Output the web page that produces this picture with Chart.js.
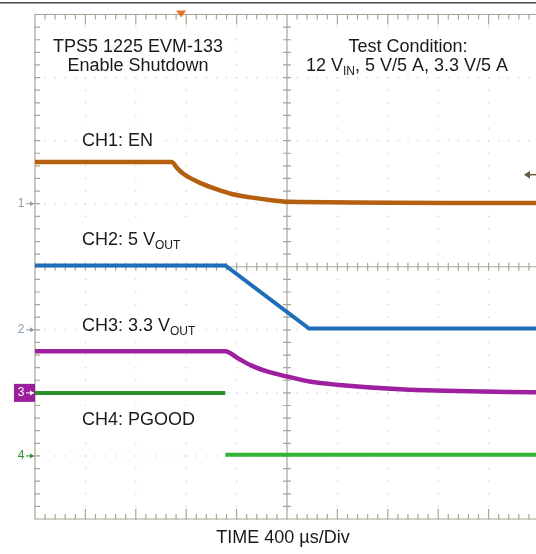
<!DOCTYPE html>
<html>
<head>
<meta charset="utf-8">
<script src="https://cdn.jsdelivr.net/npm/chart.js@4"></script>
<style>
  html, body { margin: 0; padding: 0; background: #fff; overflow: hidden; }
</style>
</head>
<body>
<canvas id="scope" width="545" height="554"></canvas>
<script>
// time axis in microseconds (400 us/div), vertical axis in divisions
const timeTicks = [-2000, -1600, -1200, -800, -400, 0, 400, 800, 1200, 1600, 2000];
const divTicks = [-4, -3, -2, -1, 0, 1, 2, 3, 4];

// CH1: EN
const ch1Time = [-2000, -915, -870, -820, -690, -560, -430, -290, -140, 20, 2000];
const ch1Div = [1.66, 1.66, 1.56, 1.47, 1.33, 1.23, 1.15, 1.10, 1.06, 1.03, 1.01];

// CH2: 5 V out
const ch2Time = [-2000, -490, 175, 2000];
const ch2Div = [0.02, 0.02, -0.98, -0.98];

// CH3: 3.3 V out
const ch3Time = [-2000, -490, -390, -290, -160, 0, 180, 390, 970, 2000];
const ch3Div = [-1.34, -1.34, -1.45, -1.56, -1.66, -1.74, -1.82, -1.87, -1.95, -1.99];

// CH4: PGOOD (before / after the drop)
const ch4HighTime = [-2000, -490];
const ch4HighDiv = [-2.0, -2.0];
const ch4LowTime = [-490, 2000];
const ch4LowDiv = [-2.98, -2.98];

// ground markers on the left, trigger position and level
const chMarkers = ["1", "2", "3", "4"];
const chMarkerDiv = [1, -1, -2, -3];
const triggerTime = -840;
const triggerLevel = 1.46;

const FONT = '"Liberation Sans", Arial, sans-serif';

function pts(xs, ys) {
  return xs.map((t, i) => ({ x: t, y: ys[i] }));
}

// text with optional subscript parts
function drawParts(ctx, parts, x, y, size, align) {
  const subSize = Math.round(size * 0.68);
  let w = 0;
  parts.forEach(p => {
    ctx.font = (p.sub ? subSize : size) + "px " + FONT;
    p.w = ctx.measureText(p.t).width;
    w += p.w;
  });
  let cx = align === "center" ? x - w / 2 : x;
  ctx.textAlign = "left";
  ctx.textBaseline = "middle";
  parts.forEach(p => {
    ctx.font = (p.sub ? subSize : size) + "px " + FONT;
    ctx.fillText(p.t, cx, p.sub ? y + size * 0.3 : y);
    cx += p.w;
  });
}

const scopeGrid = {
  id: "scopeGrid",
  beforeDatasetsDraw(chart) {
    const { ctx, chartArea: a, scales: { x, y } } = chart;
    ctx.save();

    // dotted graticule
    ctx.fillStyle = "#d2d2d2";
    const xStep = (timeTicks[1] - timeTicks[0]) / 5;
    for (const t of timeTicks) {
      const px = x.getPixelForValue(t);
      for (let v = -4; v <= 4.001; v += 0.2) ctx.fillRect(px - 0.6, y.getPixelForValue(v) - 0.6, 1.3, 1.3);
    }
    for (const d of divTicks) {
      const py = y.getPixelForValue(d);
      for (let t = -2000; t <= 2000; t += xStep) ctx.fillRect(x.getPixelForValue(t) - 0.6, py - 0.6, 1.3, 1.3);
    }

    // border and centre lines with minor ticks
    ctx.strokeStyle = "#a8a798";
    ctx.lineWidth = 1.2;
    const x0 = x.getPixelForValue(0), y0 = y.getPixelForValue(0);
    ctx.beginPath();
    ctx.moveTo(a.left, a.top); ctx.lineTo(a.right, a.top);
    ctx.moveTo(a.left, a.bottom); ctx.lineTo(a.right, a.bottom);
    ctx.moveTo(a.left, a.top); ctx.lineTo(a.left, a.bottom);
    ctx.moveTo(a.left, y0); ctx.lineTo(a.right, y0);
    ctx.moveTo(x0, a.top); ctx.lineTo(x0, a.bottom);
    for (let t = -2000; t <= 2000; t += xStep) {
      const px = x.getPixelForValue(t);
      const major = Math.abs(t % 400) < 1;
      ctx.moveTo(px, a.top); ctx.lineTo(px, a.top + (major ? 10 : 5));
      ctx.moveTo(px, a.bottom); ctx.lineTo(px, a.bottom - (major ? 10 : 5));
      ctx.moveTo(px, y0 - 4); ctx.lineTo(px, y0 + 4);
    }
    for (let v = -4; v <= 4.001; v += 0.2) {
      const py = y.getPixelForValue(v);
      ctx.moveTo(a.left, py); ctx.lineTo(a.left + 5, py);
      ctx.moveTo(x0 - 4, py); ctx.lineTo(x0 + 4, py);
    }
    ctx.stroke();

    // label boxes
    ctx.fillStyle = "#fff";
    ctx.fillRect(44, 32, 192, 44);
    ctx.fillRect(296, 32, 224, 44);
    ctx.fillRect(78, 128, 82, 26);
    ctx.fillRect(78, 226, 110, 30);
    ctx.fillRect(78, 312, 126, 30);
    ctx.fillRect(78, 406, 124, 28);

    ctx.fillStyle = "#1a1a1a";
    drawParts(ctx, [{ t: "TPS5 1225 EVM-133" }], 138, 47.5, 18, "center");
    drawParts(ctx, [{ t: "Enable Shutdown" }], 138, 66.5, 18, "center");
    drawParts(ctx, [{ t: "Test Condition:" }], 408, 47.5, 18, "center");
    drawParts(ctx, [{ t: "12 V" }, { t: "IN", sub: true }, { t: ", 5 V/5 A, 3.3 V/5 A" }], 407, 66.5, 18, "center");
    drawParts(ctx, [{ t: "CH1: EN" }], 82, 141, 18, "left");
    drawParts(ctx, [{ t: "CH2: 5 V" }, { t: "OUT", sub: true }], 82, 240, 18, "left");
    drawParts(ctx, [{ t: "CH3: 3.3 V" }, { t: "OUT", sub: true }], 82, 326, 18, "left");
    drawParts(ctx, [{ t: "CH4: PGOOD" }], 82, 420, 18, "left");
    drawParts(ctx, [{ t: "TIME 400 \u00b5s/Div" }], 283, 538, 18, "center");

    // frame line at the very top
    ctx.fillStyle = "#4a4a4a";
    ctx.fillRect(0, 2, 545, 1.5);
    ctx.restore();
  },
  afterDatasetsDraw(chart) {
    const { ctx, chartArea: a, scales: { x, y } } = chart;
    ctx.save();
    const colors = ["#999", "#8a9aa8", "#fff", "#2e8b2e"];
    chMarkers.forEach((m, i) => {
      const py = y.getPixelForValue(chMarkerDiv[i]);
      if (m === "3") {
        ctx.fillStyle = "#9b1e9b";
        ctx.fillRect(14, py - 9, 21, 18);
      }
      ctx.fillStyle = colors[i];
      ctx.strokeStyle = colors[i];
      ctx.font = "12px " + FONT;
      ctx.textAlign = "center";
      ctx.textBaseline = "middle";
      ctx.fillText(m, 21, py);
      ctx.lineWidth = 1;
      ctx.beginPath();
      ctx.moveTo(26, py); ctx.lineTo(34, py);
      ctx.stroke();
      ctx.beginPath();
      ctx.moveTo(34, py); ctx.lineTo(30, py - 2.5); ctx.lineTo(30, py + 2.5); ctx.closePath();
      ctx.fill();
    });

    // trigger position (top) and level (right)
    const tx = x.getPixelForValue(triggerTime);
    ctx.fillStyle = "#e8732a";
    ctx.beginPath();
    ctx.moveTo(tx - 5, a.top - 4); ctx.lineTo(tx + 5, a.top - 4); ctx.lineTo(tx, a.top + 3); ctx.closePath();
    ctx.fill();
    const ty = y.getPixelForValue(triggerLevel);
    ctx.strokeStyle = "#6a5a40";
    ctx.fillStyle = "#6a5a40";
    ctx.lineWidth = 1.5;
    ctx.beginPath();
    ctx.moveTo(527, ty); ctx.lineTo(540, ty);
    ctx.stroke();
    ctx.beginPath();
    ctx.moveTo(524, ty); ctx.lineTo(530, ty - 4); ctx.lineTo(530, ty + 4); ctx.closePath();
    ctx.fill();
    ctx.restore();
  }
};

new Chart(document.getElementById("scope"), {
  type: "line",
  data: {
    datasets: [
      { label: "CH1: EN", data: pts(ch1Time, ch1Div), borderColor: "#b4600e", borderWidth: 4.5, cubicInterpolationMode: "monotone" },
      { label: "CH2: 5 VOUT", data: pts(ch2Time, ch2Div), borderColor: "#1d6db8", borderWidth: 4 },
      { label: "CH3: 3.3 VOUT", data: pts(ch3Time, ch3Div), borderColor: "#9e209e", borderWidth: 4.5, cubicInterpolationMode: "monotone" },
      { label: "CH4: PGOOD", data: pts(ch4HighTime, ch4HighDiv), borderColor: "#2b8f2b", borderWidth: 4 },
      { label: "CH4: PGOOD low", data: pts(ch4LowTime, ch4LowDiv), borderColor: "#32b532", borderWidth: 4 }
    ]
  },
  options: {
    responsive: false,
    animation: false,
    parsing: false,
    layout: { padding: { left: 35, top: 14.5, right: 6, bottom: 35 } },
    elements: { point: { radius: 0 }, line: { borderCapStyle: "butt" } },
    plugins: { legend: { display: false }, tooltip: { enabled: false } },
    scales: {
      x: { type: "linear", min: -2000, max: 2000, display: false },
      y: { type: "linear", min: -4, max: 4, display: false }
    }
  },
  plugins: [scopeGrid]
});
</script>
</body>
</html>
